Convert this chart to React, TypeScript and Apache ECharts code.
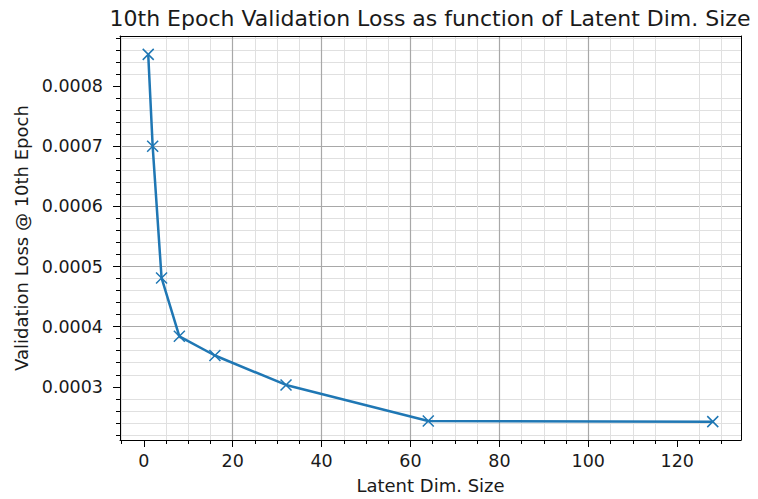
import { useEffect, useRef } from 'react';
import * as echarts from 'echarts';

// Latent dimension sizes tried and the validation loss after the 10th epoch
const latentDims = [1, 2, 4, 8, 16, 32, 64, 128];
const valLoss = [0.000853, 0.0007, 0.000481, 0.000384, 0.000352, 0.000303, 0.000243, 0.000242];

// Labelled tick positions
const xTicks = [0, 20, 40, 60, 80, 100, 120];
const yTicks = [0.0003, 0.0004, 0.0005, 0.0006, 0.0007, 0.0008];

const TITLE = '10th Epoch Validation Loss as function of Latent Dim. Size';
const X_NAME = 'Latent Dim. Size';
const Y_NAME = 'Validation Loss @ 10th Epoch';

const FONT = 'DejaVu Sans';
const BLUE = '#1f77b4';
const TEXT = '#1a1a1a';

// 5% padding around the data extent on each side
function paddedRange(vals: number[], frac = 0.05): [number, number] {
  const lo = Math.min(...vals);
  const hi = Math.max(...vals);
  const pad = (hi - lo) * frac;
  return [lo - pad, hi + pad];
}

export default function App() {
  const ref = useRef<HTMLDivElement>(null);

  useEffect(() => {
    if (!ref.current) return;
    const chart = echarts.init(ref.current, undefined, { renderer: 'svg' });

    const [xMin, xMax] = paddedRange(latentDims);
    const [yMin, yMax] = paddedRange(valLoss);

    const spine = { show: true, onZero: false, lineStyle: { color: '#000', width: 1 } };
    const frameAxis = {
      axisTick: { show: false },
      axisLabel: { show: false },
      splitLine: { show: false },
      axisLine: spine,
    };

    chart.setOption({
      animation: false,
      backgroundColor: '#fff',
      grid: { left: 120, right: 17, top: 36, bottom: 56, containLabel: false },
      graphic: [
        {
          type: 'text',
          x: 430,
          y: 18,
          style: {
            text: TITLE,
            font: `22px "${FONT}"`,
            fill: TEXT,
            align: 'center',
            verticalAlign: 'middle',
          },
        },
      ],
      xAxis: [
        {
          type: 'value',
          position: 'bottom',
          min: xMin,
          max: xMax,
          splitNumber: 7,
          axisLine: spine,
          axisTick: { show: true, length: 7, customValues: xTicks, lineStyle: { color: '#000', width: 1 } },
          minorTick: { show: true, splitNumber: 4, length: 4, lineStyle: { color: '#000', width: 1 } },
          axisLabel: {
            customValues: xTicks,
            margin: 12,
            fontFamily: FONT,
            fontSize: 17.5,
            color: TEXT,
            formatter: (v: number) => String(Math.round(v)),
          },
          splitLine: {
            show: true,
            showMinLine: false,
            showMaxLine: false,
            lineStyle: { color: '#a8a8a8', width: 1.2 },
          },
          minorSplitLine: { show: true, lineStyle: { color: '#e0e0e0', width: 1 } },
          name: X_NAME,
          nameLocation: 'middle',
          nameGap: 36,
          nameTextStyle: { fontFamily: FONT, fontSize: 18, color: TEXT },
        },
        { type: 'value', position: 'top', min: xMin, max: xMax, ...frameAxis },
      ],
      yAxis: [
        {
          type: 'value',
          position: 'left',
          min: yMin,
          max: yMax,
          splitNumber: 7,
          axisLine: spine,
          axisTick: { show: true, length: 7, customValues: yTicks, lineStyle: { color: '#000', width: 1 } },
          minorTick: { show: true, splitNumber: 5, length: 4, lineStyle: { color: '#000', width: 1 } },
          axisLabel: {
            customValues: yTicks,
            margin: 17,
            fontFamily: FONT,
            fontSize: 17.5,
            color: TEXT,
            formatter: (v: number) => v.toFixed(4),
          },
          splitLine: {
            show: true,
            showMinLine: false,
            showMaxLine: false,
            lineStyle: { color: '#a8a8a8', width: 1.2 },
          },
          minorSplitLine: { show: true, lineStyle: { color: '#e0e0e0', width: 1 } },
          name: Y_NAME,
          nameLocation: 'middle',
          nameRotate: 90,
          nameGap: 90,
          nameTextStyle: { fontFamily: FONT, fontSize: 18, color: TEXT },
        },
        { type: 'value', position: 'right', min: yMin, max: yMax, ...frameAxis },
      ],
      series: [
        {
          type: 'line',
          xAxisIndex: 0,
          yAxisIndex: 0,
          data: latentDims.map((d, i) => [d, valLoss[i]]),
          lineStyle: { color: BLUE, width: 2.5 },
          symbol: 'path://M0,0L10,10M10,0L0,10',
          symbolSize: 11,
          itemStyle: { color: BLUE, borderColor: BLUE, borderWidth: 1.5 },
          clip: false,
          z: 5,
        },
      ],
    });

    return () => chart.dispose();
  }, []);

  return (
    <div
      ref={ref}
      style={{ position: 'absolute', left: 0, top: 0, width: 758, height: 499, background: '#fff' }}
    />
  );
}
